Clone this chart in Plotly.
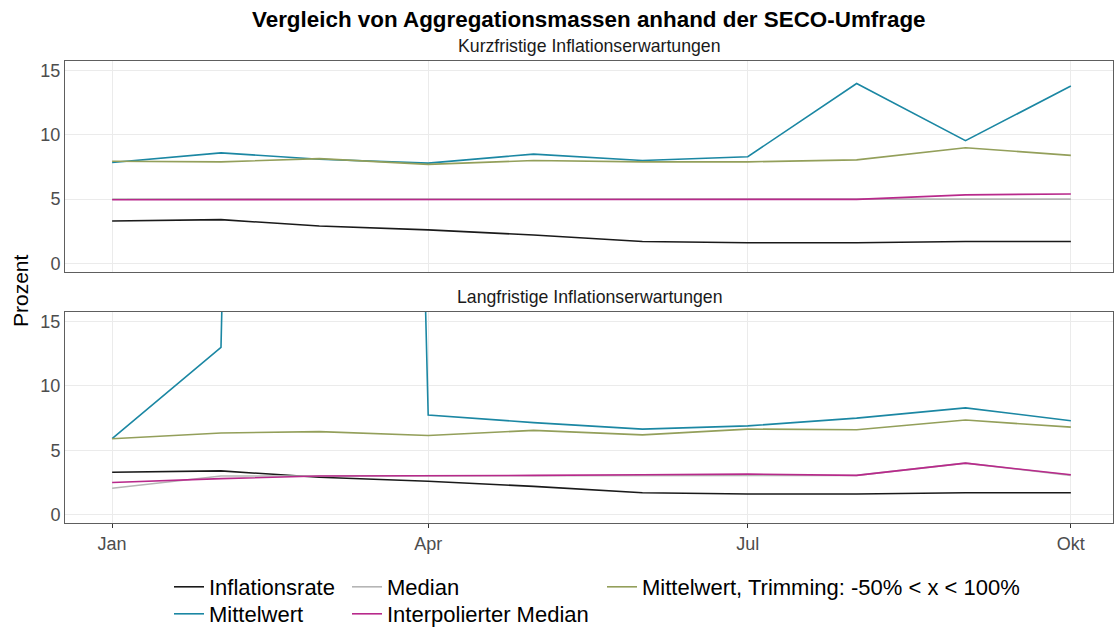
import plotly.graph_objects as go

months = ["2023-01-01", "2023-02-01", "2023-03-01", "2023-04-01", "2023-05-01",
          "2023-06-01", "2023-07-01", "2023-08-01", "2023-09-01", "2023-10-01"]

# Kurzfristige Inflationserwartungen
inflation = [3.3, 3.4, 2.9, 2.6, 2.2, 1.7, 1.6, 1.6, 1.7, 1.7]
st_mean = [7.85, 8.6, 8.1, 7.8, 8.5, 8.0, 8.3, 14.0, 9.55, 13.8]
st_median = [5.0, 5.0, 5.0, 5.0, 5.0, 5.0, 5.0, 5.0, 5.0, 5.0]
st_interp = [4.95, 4.96, 4.96, 4.97, 5.0, 5.0, 4.98, 4.98, 5.33, 5.4]
st_trim = [7.95, 7.9, 8.15, 7.7, 8.0, 7.9, 7.9, 8.05, 9.0, 8.4]

# Langfristige Inflationserwartungen
lt_mean = [5.9, 13.0, 350.0, 7.75, 7.15, 6.65, 6.9, 7.5, 8.3, 7.3]
lt_median = [2.05, 3.0, 3.0, 3.0, 3.0, 3.05, 3.05, 3.05, 4.0, 3.05]
lt_interp = [2.5, 2.8, 3.0, 3.0, 3.05, 3.1, 3.15, 3.05, 4.0, 3.1]
lt_trim = [5.9, 6.35, 6.45, 6.15, 6.55, 6.2, 6.65, 6.6, 7.35, 6.8]

tick_vals = ["2023-01-01", "2023-04-01", "2023-07-01", "2023-10-01"]
tick_text = ["Jan", "Apr", "Jul", "Okt"]

names = ["Inflationsrate", "Mittelwert", "Median", "Interpolierter Median",
         "Mittelwert, Trimming: -50% < x < 100%"]
colors = ["#1a1a1a", "#1b87a3", "#b5b5b5", "#b8298b", "#939f5a"]
legend_ids = ["legend", "legend2", "legend3", "legend4", "legend5"]

top_series = [inflation, st_mean, st_median, st_interp, st_trim]
bot_series = [inflation, lt_mean, lt_median, lt_interp, lt_trim]

FONT = "Liberation Sans, Arial, sans-serif"
fig = go.Figure()

for i, (name, col) in enumerate(zip(names, colors)):
    fig.add_trace(go.Scatter(x=months, y=top_series[i], mode="lines", name=name,
                             line=dict(color=col, width=1.6), xaxis="x", yaxis="y",
                             legend=legend_ids[i], showlegend=True))
for i, (name, col) in enumerate(zip(names, colors)):
    fig.add_trace(go.Scatter(x=months, y=bot_series[i], mode="lines", name=name,
                             line=dict(color=col, width=1.6), xaxis="x2", yaxis="y2",
                             legend=legend_ids[i], showlegend=False))

xr = ["2022-12-18 14:00", "2023-10-13 00:00"]
yr = [-0.65, 15.75]
axis_common = dict(showline=True, mirror=True, linecolor="#5e5e5e", linewidth=1,
                   gridcolor="#ebebeb", gridwidth=1, zeroline=False)

legend_font = dict(family=FONT, size=22, color="#000000")
tick_font = dict(family=FONT, size=18, color="#4d4d4d")
PL, PT, PW, PH = 65, 61, 1048, 462


def leg(px, py):
    return dict(x=(px - PL) / PW, y=(PT + PH - py) / PH, xanchor="left", yanchor="top",
                orientation="v", font=legend_font, bgcolor="rgba(0,0,0,0)")


fig.update_layout(
    width=1115, height=627,
    margin=dict(l=65, r=2, t=61, b=104, autoexpand=False),
    plot_bgcolor="white", paper_bgcolor="white",
    font=dict(family=FONT),
    xaxis=dict(domain=[0, 1], anchor="y", range=xr, tickvals=tick_vals, ticktext=tick_text,
               showticklabels=False, type="date", **axis_common),
    yaxis=dict(domain=[0.544, 1], anchor="x", range=yr, tickvals=[0, 5, 10, 15],
               tickfont=tick_font, **axis_common),
    xaxis2=dict(domain=[0, 1], anchor="y2", range=xr, tickvals=tick_vals, ticktext=tick_text,
                type="date", ticks="outside", ticklen=4, tickcolor="#333333",
                tickfont=tick_font, **axis_common),
    yaxis2=dict(domain=[0, 0.4567], anchor="x2", range=yr, tickvals=[0, 5, 10, 15],
                tickfont=tick_font, **axis_common),
    legend=leg(169, 566),
    legend2=leg(169, 593),
    legend3=leg(347, 566),
    legend4=leg(347, 593),
    legend5=leg(602, 566),
    annotations=[
        dict(text="<b>Vergleich von Aggregationsmassen anhand der SECO-Umfrage</b>",
             xref="paper", yref="paper", x=0.5, y=1 + (61 - 20) / 462, xanchor="center",
             yanchor="middle", showarrow=False, font=dict(family=FONT, size=22.4, color="#000000")),
        dict(text="Kurzfristige Inflationserwartungen", xref="paper", yref="paper",
             x=0.5, y=1 + (61 - 46) / 462, xanchor="center", yanchor="middle", showarrow=False,
             font=dict(family=FONT, size=17.7, color="#1a1a1a")),
        dict(text="Langfristige Inflationserwartungen", xref="paper", yref="paper",
             x=0.5, y=(523 - 297) / 462, xanchor="center", yanchor="middle", showarrow=False,
             font=dict(family=FONT, size=17.7, color="#1a1a1a")),
        dict(text="Prozent", xref="paper", yref="paper", x=-(65 - 20) / 1048,
             y=(523 - 291) / 462, xanchor="center", yanchor="middle", textangle=-90,
             showarrow=False, font=dict(family=FONT, size=21, color="#000000")),
    ],
)

fig.write_html("out.html", config={"displayModeBar": False},
               post_script="document.body.style.margin='0px';document.body.style.overflow='hidden';")
